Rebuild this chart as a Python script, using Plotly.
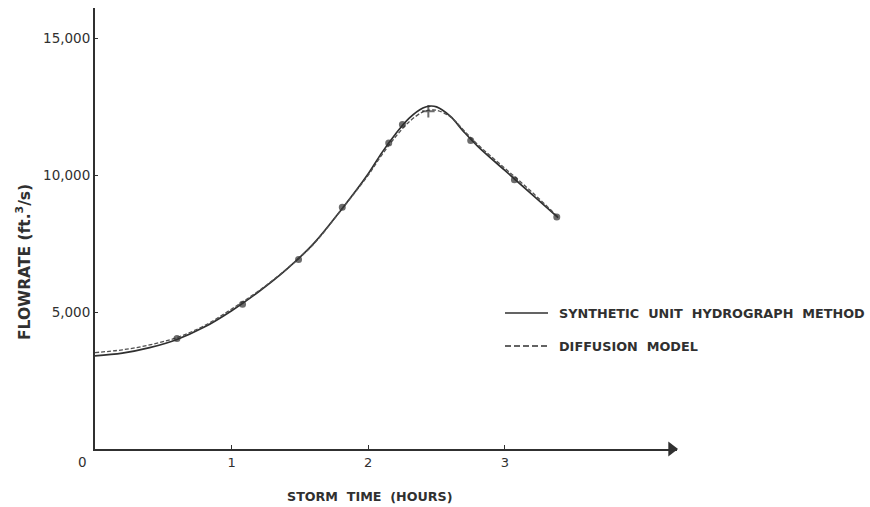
import plotly.graph_objects as go

# Storm time (hours) and flowrate (ft^3/s) for the two methods
t_suh = [0.0, 0.2, 0.4, 0.6, 0.8, 1.0, 1.2, 1.4, 1.6, 1.8, 2.0, 2.1, 2.2, 2.3, 2.4, 2.45, 2.5, 2.6, 2.7, 2.8, 3.0, 3.2, 3.39]
q_suh = [3400, 3500, 3700, 4000, 4450, 5050, 5750, 6550, 7500, 8720, 10050, 10820, 11500, 12080, 12450, 12520, 12490, 12150, 11580, 11060, 10170, 9290, 8450]

t_dif = [0.0, 0.2, 0.4, 0.6, 0.8, 1.0, 1.2, 1.4, 1.6, 1.8, 2.0, 2.1, 2.2, 2.3, 2.4, 2.45, 2.5, 2.6, 2.7, 2.8, 3.0, 3.2, 3.39]
q_dif = [3520, 3620, 3800, 4070, 4500, 5110, 5780, 6560, 7480, 8720, 10000, 10740, 11400, 11950, 12310, 12370, 12370, 12130, 11630, 11120, 10250, 9370, 8470]

# Plotted points along the diffusion-model hydrograph
t_pts = [0.6, 1.08, 1.49, 1.81, 2.15, 2.25, 2.44, 2.75, 3.07, 3.38]
q_pts = [4030, 5280, 6920, 8830, 11170, 11850, 12330, 11260, 9830, 8470]

y_ticks = [5000, 10000, 15000]
y_tick_text = ["5,000", "10,000", "15,000"]
x_ticks = [1, 2, 3]
x_tick_text = ["1", "2", "3"]

legend_names = ["SYNTHETIC  UNIT  HYDROGRAPH  METHOD", "DIFFUSION  MODEL"]

INK = "#303030"
W, H = 870, 507
L, R, T, B = 95, 193, 8, 58
X_MAX, Y_MAX = 4.26, 16100


def px_x(p):
    return (p - L) / (W - L - R)


def px_y(p):
    return (H - B - p) / (H - B - T)


fig = go.Figure()
fig.add_trace(go.Scatter(x=t_suh, y=q_suh, mode="lines", line=dict(color=INK, width=1.7, shape="spline"),
                         showlegend=False, hoverinfo="skip"))
fig.add_trace(go.Scatter(x=t_dif, y=q_dif, mode="lines", line=dict(color="#505050", width=1.3, dash="4px,2px", shape="spline"),
                         showlegend=False, hoverinfo="skip"))
symbols = ["circle"] * len(t_pts)
sizes = [5] * len(t_pts)
peak = t_pts.index(2.44)
symbols[peak] = "cross-thin"
sizes[peak] = 9
fig.add_trace(go.Scatter(x=t_pts, y=q_pts, mode="markers",
                         marker=dict(color=INK, size=sizes, symbol=symbols, line=dict(color=INK, width=2)),
                         showlegend=False, hoverinfo="skip"))
# arrowhead closing the time axis
fig.add_trace(go.Scatter(x=[X_MAX - 0.04], y=[0], mode="markers", cliponaxis=False,
                         marker=dict(color=INK, size=13, symbol="triangle-right"),
                         showlegend=False, hoverinfo="skip"))

fig.update_xaxes(range=[0, X_MAX], showline=True, linecolor=INK, linewidth=2, showgrid=False, zeroline=False,
                 tickmode="array", tickvals=x_ticks, ticktext=x_tick_text, ticks="inside", ticklen=4,
                 tickcolor=INK, tickfont=dict(family="DejaVu Sans", size=13, color=INK))
fig.update_yaxes(range=[0, Y_MAX], showline=True, linecolor=INK, linewidth=2, showgrid=False, zeroline=False,
                 tickmode="array", tickvals=y_ticks, ticktext=y_tick_text, ticks="inside", ticklen=3,
                 tickcolor=INK, tickfont=dict(family="DejaVu Sans", size=13.5, color=INK))

annotations = [
    dict(x=px_x(82), y=px_y(462), xref="paper", yref="paper", text="0", showarrow=False,
         xanchor="center", yanchor="middle", font=dict(family="DejaVu Sans", size=13.5, color=INK)),
    dict(x=px_x(370), y=px_y(496), xref="paper", yref="paper", text="<b>STORM  TIME  (HOURS)</b>",
         xanchor="center", yanchor="middle", showarrow=False, font=dict(family="DejaVu Sans", size=12.7, color=INK)),
    dict(x=px_x(23), y=px_y(262), xref="paper", yref="paper", text="<b>FLOWRATE (ft.<sup>3</sup>/s)</b>",
         xanchor="center", yanchor="middle", textangle=-90, showarrow=False,
         font=dict(family="DejaVu Sans", size=15.5, color=INK)),
]
for name, ypix in zip(legend_names, [313, 346]):
    annotations.append(dict(x=px_x(557), y=px_y(ypix), xref="paper", yref="paper", text="<b>" + name + "</b>",
                            xanchor="left", yanchor="middle", showarrow=False,
                            font=dict(family="DejaVu Sans", size=12.8, color=INK)))

shapes = [
    dict(type="line", xref="paper", yref="paper", x0=px_x(505), x1=px_x(548), y0=px_y(313), y1=px_y(313),
         line=dict(color=INK, width=1.3)),
    dict(type="line", xref="paper", yref="paper", x0=px_x(505), x1=px_x(548), y0=px_y(346), y1=px_y(346),
         line=dict(color=INK, width=1.3, dash="6px,3px")),
]

fig.update_layout(width=W, height=H, margin=dict(l=L, r=R, t=T, b=B), paper_bgcolor="white",
                  plot_bgcolor="white", annotations=annotations, shapes=shapes, showlegend=False)

fig.write_html("out.html")
